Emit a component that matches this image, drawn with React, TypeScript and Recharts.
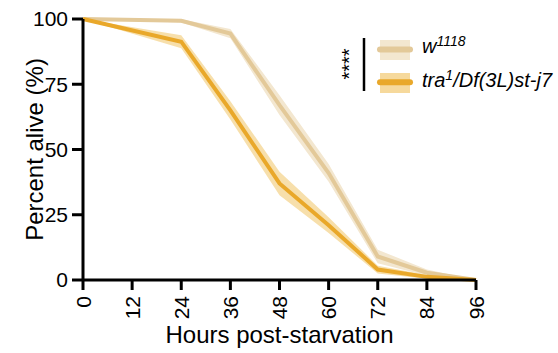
import React from 'react';
import { ComposedChart, Line, Area, XAxis, YAxis } from 'recharts';

const hours = [0, 24, 36, 48, 60, 72, 84, 96];
const wMean = [100, 99.3, 94.4, 67, 41, 9, 2.8, 0];
const wErr = [0, 0.6, 1.8, 3.8, 3.4, 2.6, 1.2, 0];
const traMean = [100, 91.3, 65, 37, 21, 4, 1.2, 0];
const traErr = [0, 2.5, 3.5, 4.5, 3, 1.5, 0.7, 0];
const xTicks = [0, 12, 24, 36, 48, 60, 72, 84, 96];
const yTicks = [0, 25, 50, 75, 100];
const seriesNames = ['w', 'tra'];

const W_LINE = '#e3c999';
const W_BAND = '#f3e7d0';
const T_LINE = '#e9a82a';
const T_BAND = '#f6d99c';
const FONT = 'Arial, "Liberation Sans", sans-serif';

const data = hours.map((h, i) => ({
  hours: h,
  w: wMean[i],
  wRange: [wMean[i] - wErr[i], wMean[i] + wErr[i]],
  tra: traMean[i],
  traRange: [traMean[i] - traErr[i], traMean[i] + traErr[i]],
}));

const XTick = (props: any) => {
  const { x, y, payload } = props;
  return (
    <text
      x={x}
      y={y}
      transform={`rotate(-90 ${x} ${y})`}
      textAnchor="end"
      dy="0.36em"
      fontSize={21}
      fontFamily={FONT}
      fill="#000"
    >
      {payload.value}
    </text>
  );
};

export default function App() {
  return (
    <div style={{ position: 'absolute', left: 0, top: 0, width: 558, height: 353, background: '#fff' }}>
      <ComposedChart
        width={558}
        height={353}
        data={data}
        margin={{ top: 19, right: 82, bottom: 0, left: 0 }}
      >
        <XAxis
          dataKey="hours"
          type="number"
          domain={[0, 96]}
          ticks={xTicks}
          interval={0}
          height={73}
          tickSize={10}
          tickMargin={6}
          tick={<XTick />}
          axisLine={{ stroke: '#000', strokeWidth: 3 }}
          tickLine={{ stroke: '#000', strokeWidth: 3 }}
        />
        <YAxis
          type="number"
          domain={[0, 100]}
          ticks={yTicks}
          interval={0}
          width={83}
          tickSize={11}
          tickMargin={4}
          tick={{ fontSize: 21, fontFamily: FONT, fill: '#000' }}
          axisLine={{ stroke: '#000', strokeWidth: 3 }}
          tickLine={{ stroke: '#000', strokeWidth: 3 }}
        />
        <Area
          dataKey="wRange"
          name={seriesNames[0] + ' band'}
          stroke="none"
          fill={W_BAND}
          fillOpacity={1}
          isAnimationActive={false}
          type="linear"
        />
        <Line
          dataKey="w"
          name={seriesNames[0]}
          stroke={W_LINE}
          strokeWidth={4}
          dot={false}
          type="linear"
          isAnimationActive={false}
        />
        <Area
          dataKey="traRange"
          name={seriesNames[1] + ' band'}
          stroke="none"
          fill={T_BAND}
          fillOpacity={0.85}
          isAnimationActive={false}
          type="linear"
        />
        <Line
          dataKey="tra"
          name={seriesNames[1]}
          stroke={T_LINE}
          strokeWidth={4}
          dot={false}
          type="linear"
          isAnimationActive={false}
        />
      </ComposedChart>
      <svg
        width={558}
        height={353}
        style={{ position: 'absolute', left: 0, top: 0, pointerEvents: 'none' }}
      >
        <text
          x={43}
          y={149.5}
          transform="rotate(-90 43 149.5)"
          textAnchor="middle"
          fontSize={24}
          fontFamily={FONT}
          fill="#000"
        >
          Percent alive (%)
        </text>
        <text x={279.5} y={343} textAnchor="middle" fontSize={24} fontFamily={FONT} fill="#000">
          Hours post-starvation
        </text>
        <line x1={364} y1={38} x2={364} y2={91} stroke="#000" strokeWidth={2.5} />
        <text
          x={356}
          y={64}
          transform="rotate(-90 356 64)"
          textAnchor="middle"
          fontSize={20}
          fontFamily={FONT}
          fill="#000"
        >
          ****
        </text>
        <rect x={380} y={40} width={30} height={20} fill={W_BAND} />
        <line x1={380} y1={49.5} x2={410} y2={49.5} stroke={W_LINE} strokeWidth={6} strokeLinecap="round" />
        <rect x={380} y={73} width={30} height={20} fill={T_BAND} />
        <line x1={380} y1={82.3} x2={410} y2={82.3} stroke={T_LINE} strokeWidth={6} strokeLinecap="round" />
        <text x={422} y={53} fontSize={20} fontStyle="italic" fontFamily={FONT} fill="#000">
          <tspan>w</tspan>
          <tspan fontSize={14} dy={-7}>1118</tspan>
        </text>
        <text x={422} y={87} fontSize={20} fontStyle="italic" fontFamily={FONT} fill="#000">
          <tspan>tra</tspan>
          <tspan fontSize={14} dy={-7}>1</tspan>
          <tspan dy={7}>/Df(3L)st-j7</tspan>
        </text>
      </svg>
    </div>
  );
}
